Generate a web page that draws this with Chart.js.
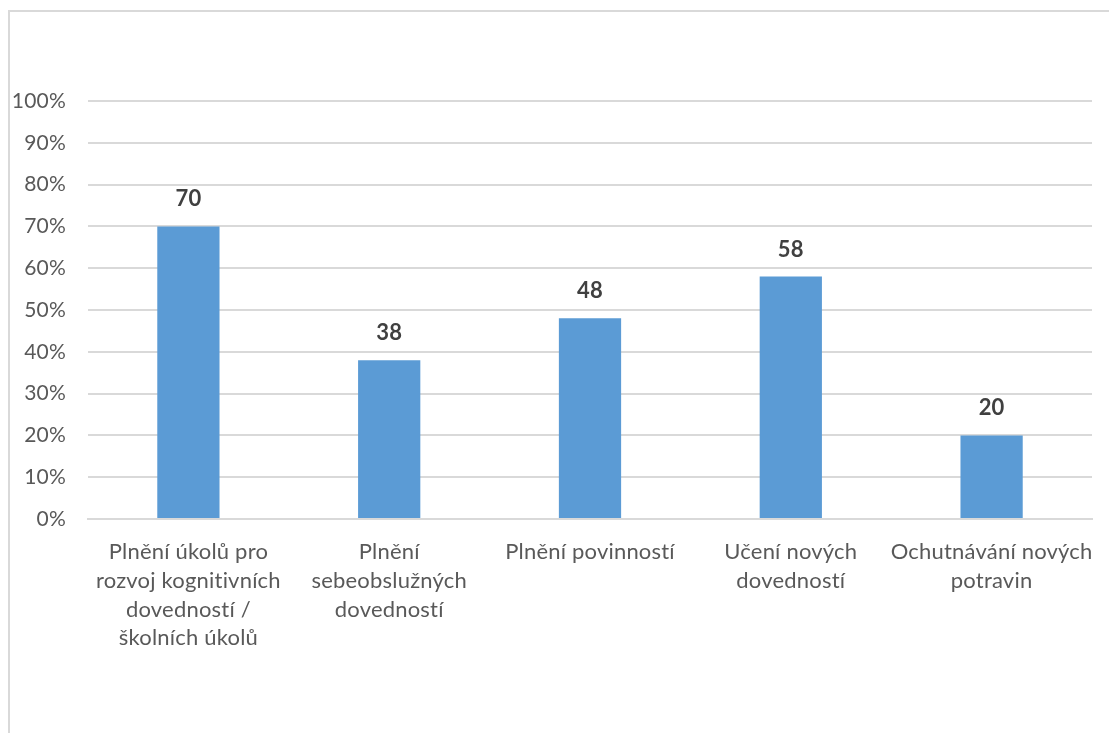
<!DOCTYPE html>
<html>
<head>
<meta charset="utf-8">
<script src="https://cdn.jsdelivr.net/npm/chart.js@4"></script>
<style>
  html, body { margin: 0; padding: 0; background: #fff; }
  #wrap { position: relative; width: 1109px; height: 733px; overflow: hidden; }
  #frame { position: absolute; left: 8px; top: 10px; width: 1200px; height: 800px;
           border-left: 2px solid #d9d9d9; border-top: 2px solid #d9d9d9; }
  canvas { position: absolute; left: 0; top: 0; }
</style>
</head>
<body>
<div id="wrap">
  <div id="frame"></div>
  <canvas id="myChart" width="1109" height="733"></canvas>
</div>
<script>
const categories = [
  ['Plnění úkolů pro', 'rozvoj kognitivních', 'dovedností /', 'školních úkolů'],
  ['Plnění', 'sebeobslužných', 'dovedností'],
  ['Plnění povinností'],
  ['Učení nových', 'dovedností'],
  ['Ochutnávání nových', 'potravin']
]
const values = [70, 38, 48, 58, 20]
const yTicks = [0, 10, 20, 30, 40, 50, 60, 70, 80, 90, 100]

const fontFamily = 'Lato, "Open Sans", sans-serif'
const ctx = document.getElementById('myChart').getContext('2d')

// no "ti" ligature in the labels
const plainText = {
  id: 'plainText',
  beforeDraw(chart) {
    chart.ctx.letterSpacing = '0.2px'
  }
}

// value above each bar
const barValues = {
  id: 'barValues',
  afterDatasetsDraw(chart) {
    const c = chart.ctx
    const meta = chart.getDatasetMeta(0)
    c.save()
    c.font = 'bold 22px ' + fontFamily
    c.fillStyle = '#404040'
    c.textAlign = 'center'
    c.textBaseline = 'middle'
    meta.data.forEach((bar, i) => {
      c.fillText(values[i], bar.x, bar.y - 27)
    })
    c.restore()
  }
}

const myChart = new Chart(ctx, {
  type: 'bar',
  data: {
    labels: categories,
    datasets: [{
      data: values,
      backgroundColor: '#5b9bd5',
      borderWidth: 0,
      barPercentage: 0.31,
      categoryPercentage: 1
    }]
  },
  options: {
    responsive: false,
    animation: false,
    layout: { padding: { top: 101, right: 17, left: 0, bottom: 0 } },
    plugins: {
      legend: { display: false },
      tooltip: { enabled: false }
    },
    scales: {
      x: {
        grid: { display: false },
        border: { color: '#d9d9d9', width: 2 },
        ticks: {
          color: '#595959',
          font: { family: fontFamily, size: 22, lineHeight: 1.3 },
          padding: 11,
          maxRotation: 0,
          autoSkip: false
        },
        afterFit(scale) { scale.height = 733 - 519 }
      },
      y: {
        min: 0,
        max: 100,
        afterBuildTicks(scale) { scale.ticks = yTicks.map(v => ({ value: v })) },
        grid: { color: '#d9d9d9', lineWidth: 2, drawTicks: false },
        border: { display: false },
        ticks: {
          color: '#595959',
          font: { family: fontFamily, size: 21 },
          padding: 22,
          callback: v => v + '%'
        },
        afterFit(scale) { scale.width = 88 }
      }
    }
  },
  plugins: [plainText, barValues]
})
</script>
</body>
</html>
